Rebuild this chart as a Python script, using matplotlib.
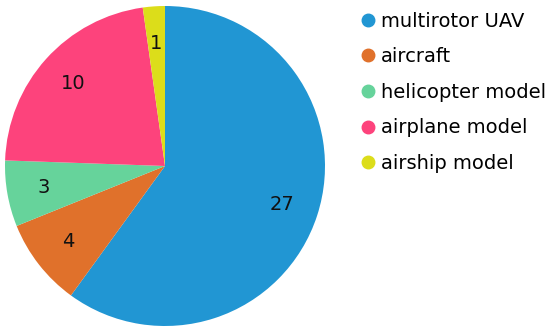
import matplotlib
matplotlib.use("Agg")
import matplotlib.pyplot as plt
from matplotlib.lines import Line2D

# data
categories = ["multirotor UAV", "aircraft", "helicopter model", "airplane model", "airship model"]
counts = [27, 4, 3, 10, 1]
colors = ["#2196d3", "#e0712b", "#66d39b", "#fd437c", "#dcdd1a"]

fig = plt.figure(figsize=(5.5, 3.31), dpi=100)
ax = fig.add_axes([5 / 550, 5 / 331, 320 / 550, 320 / 331])

wedges, texts = ax.pie(
    counts,
    colors=colors,
    startangle=90,
    counterclock=False,
    labels=[str(c) for c in counts],
    labeldistance=0.77,
    wedgeprops=dict(linewidth=0),
    textprops=dict(fontsize=14, color="#111111", ha="center", va="center"),
)
ax.set_xlim(-1, 1)
ax.set_ylim(-1, 1)
ax.set_aspect("equal")

handles = [
    Line2D([], [], marker="o", linestyle="", markersize=9,
           markerfacecolor=c, markeredgecolor=c)
    for c in colors
]
fig.legend(
    handles, categories,
    loc="upper left", bbox_to_anchor=(352 / 550, 1 - 2 / 331),
    frameon=False, fontsize=14, handlelength=0.6, handletextpad=0.4,
    labelspacing=0.85, borderpad=0,
)

fig.savefig("out.png", dpi=100)
